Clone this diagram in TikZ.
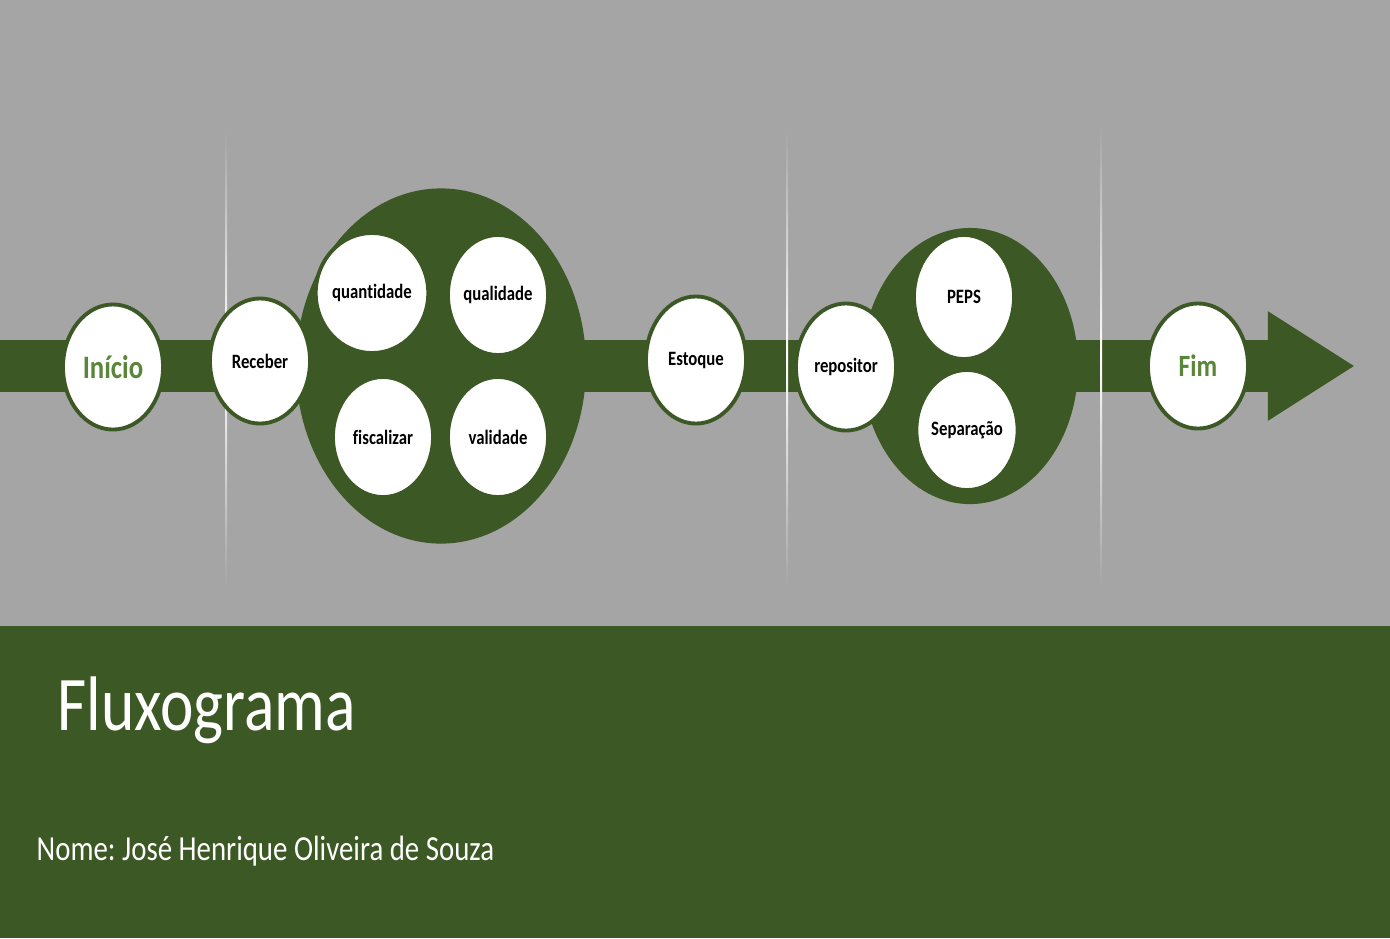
\documentclass[tikz,border=0pt]{standalone}
\usepackage{fontspec}
\setmainfont{Carlito}[FakeStretch=0.82,Ligatures=NoCommon]
\frenchspacing
\usepackage{xcolor}
\definecolor{Col1}{RGB}{60,88,36}
\definecolor{Col2}{RGB}{90,134,58}
\definecolor{Col5}{RGB}{165,165,165}
\usepackage{tikz}
\usetikzlibrary{shapes}
\usetikzlibrary{arrows.meta}
\tikzstyle{Node}=[ellipse,draw=Col1,fill=white,line width=1.1pt,inner sep=0pt,
minimum width=1cm,minimum height=1.25cm,font=\bfseries\fontsize{5.8}{6}\selectfont]
\tikzstyle{NodeIn}=[Node,minimum width=1cm,minimum height=1.2cm]
\tikzstyle{NodeST}=[Node,text=Col2,font=\bfseries\fontsize{9.3}{10}\selectfont]
\tikzstyle{Group}=[ellipse,fill=Col1,inner sep=0pt]
\tikzstyle{Edge}=[draw=Col1,line width=0.52cm,-{Triangle[length=0.87cm,width=1.03cm]}]
\tikzstyle{Sep}=[top color=Col5,bottom color=Col5,middle color=white]

\begin{document}
\begin{tikzpicture}[x=0.01cm,y=-0.01cm]
            \useasboundingbox (0,0) rectangle (1390,938);
            \fill[Col5] (0,0) rectangle (1390,626);
            \fill[Col1] (0,626) rectangle (1390,938);
            %
            \coordinate(s)at(0,366);
            \coordinate(t)at(1355,366);
            \draw[Edge](s)--(t);
            \shade[Sep](225,130) rectangle (227,585);
            \shade[Sep](786,130) rectangle (788,585);
            \shade[Sep](1100,125) rectangle (1102,585);
            %
            \node[Group,minimum width=2.9cm,minimum height=3.55cm](g1)at(441,366){};
            \node[Group,minimum width=2.16cm,minimum height=2.76cm](g2)at(970,366){};
            %
            \node[NodeST](inicio)at(113,367){Início};
            \node[Node](receber)at(260,361){Receber};
            \node[NodeIn](quant)at(372,293){quantidade};
            \node[NodeIn](qual)at(498,295){qualidade};
            \node[NodeIn](fisc)at(383,437){fiscalizar};
            \node[NodeIn](valid)at(498,437){validade};
            \node[Node,minimum height=1.27cm](estoque)at(696,360){Estoque};
            \node[Node,minimum height=1.27cm](repos)at(846,367){repositor};
            \node[NodeIn,minimum height=1.24cm](peps)at(964,297){PEPS};
            \node[NodeIn](separ)at(967,430){Separação};
            \node[NodeST,font=\bfseries\fontsize{8.8}{10}\selectfont](fim)at(1198,366){Fim};
            %
            \node[anchor=base west,text=white,inner sep=0pt,
                font=\fontsize{22}{26}\selectfont](titulo)at(57,730){Fluxograma};
            \node[anchor=base west,text=white,inner sep=0pt,
                font=\fontsize{10}{12}\selectfont](nome)at(36,860)
                {Nome: José Henrique Oliveira de Souza};
        \end{tikzpicture}
\end{document}
